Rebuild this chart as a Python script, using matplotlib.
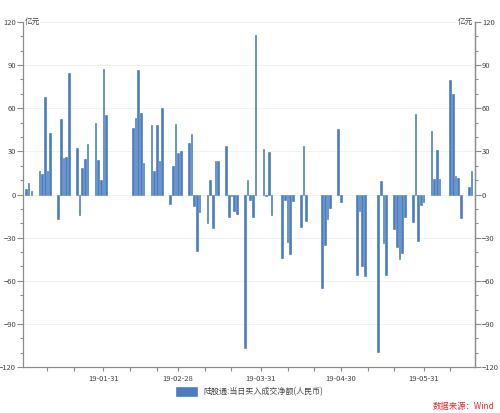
import matplotlib
matplotlib.use("Agg")
import matplotlib.pyplot as plt
import pandas as pd

plt.rcParams["font.family"] = ["Noto Sans CJK SC", "DejaVu Sans"]

# 陆股通 daily net buy (亿元), trading days 2019-01-02 .. 2019-06-18
dates = [
    "2019-01-02", "2019-01-03", "2019-01-04",
    "2019-01-07", "2019-01-08", "2019-01-09", "2019-01-10", "2019-01-11",
    "2019-01-14", "2019-01-15", "2019-01-16", "2019-01-17", "2019-01-18",
    "2019-01-21", "2019-01-22", "2019-01-23", "2019-01-24", "2019-01-25",
    "2019-01-28", "2019-01-29", "2019-01-30", "2019-01-31", "2019-02-01",
    "2019-02-11", "2019-02-12", "2019-02-13", "2019-02-14", "2019-02-15",
    "2019-02-18", "2019-02-19", "2019-02-20", "2019-02-21", "2019-02-22",
    "2019-02-25", "2019-02-26", "2019-02-27", "2019-02-28", "2019-03-01",
    "2019-03-04", "2019-03-05", "2019-03-06", "2019-03-07", "2019-03-08",
    "2019-03-11", "2019-03-12", "2019-03-13", "2019-03-14", "2019-03-15",
    "2019-03-18", "2019-03-19", "2019-03-20", "2019-03-21", "2019-03-22",
    "2019-03-25", "2019-03-26", "2019-03-27", "2019-03-28", "2019-03-29",
    "2019-04-01", "2019-04-02", "2019-04-03", "2019-04-04",
    "2019-04-08", "2019-04-09", "2019-04-10", "2019-04-11", "2019-04-12",
    "2019-04-15", "2019-04-16", "2019-04-17",
    "2019-04-23", "2019-04-24", "2019-04-25", "2019-04-26",
    "2019-04-29", "2019-04-30",
    "2019-05-06", "2019-05-07", "2019-05-08", "2019-05-09",
    "2019-05-14", "2019-05-15", "2019-05-16", "2019-05-17",
    "2019-05-20", "2019-05-21", "2019-05-22", "2019-05-23", "2019-05-24",
    "2019-05-27", "2019-05-28", "2019-05-29", "2019-05-30", "2019-05-31",
    "2019-06-03", "2019-06-04", "2019-06-05", "2019-06-06",
    "2019-06-10", "2019-06-11", "2019-06-12", "2019-06-13", "2019-06-14",
    "2019-06-17", "2019-06-18",
]
net_buy = [
    3.5, 7.8, 2.2,
    16.5, 14.5, 68.0, 16.4, 42.8,
    -16.8, 52.2, 25.4, 26.1, 84.4,
    32.4, -14.0, 18.3, 24.5, 35.0,
    49.7, 23.9, 10.0, 87.0, 55.5,
    46.0, 53.5, 86.3, 56.8, 22.0,
    48.0, 16.2, 48.0, 23.3, 60.3,
    -6.7, 20.0, 49.0, 28.8, 30.2,
    35.5, 41.8, -8.1, -39.6, -12.0,
    -19.7, 10.0, -23.3, 23.1, 23.0,
    34.0, -15.8, -1.0, -11.5, -13.5,
    -107.0, 10.0, -4.0, -15.3, 111.0,
    31.3, -1.0, 29.5, -14.4,
    -44.0, -3.5, -33.0, -41.5, -4.6,
    -22.3, 34.0, -18.4,
    -65.0, -35.0, -16.7, -9.7,
    45.5, -5.0,
    -56.0, -11.6, -49.6, -56.6,
    -109.5, 9.3, -33.5, -55.7,
    -23.8, -36.4, -44.8, -40.8, -15.5,
    -19.0, 55.8, -32.3, -7.4, -5.0,
    44.3, 10.7, 30.9, 10.7,
    79.4, 69.8, 12.8, 11.8, -16.0,
    4.9, 16.2,
]
label_months = ["2019-01-31", "2019-02-28", "2019-03-31", "2019-04-30", "2019-05-31"]
minor_days = ["2019-01-10", "2019-01-20", "2019-02-10", "2019-02-20",
              "2019-03-10", "2019-03-20", "2019-04-10", "2019-04-20",
              "2019-05-10", "2019-05-20", "2019-06-10"]
legend_label = "陆股通:当日买入成交净额(人民币)"

x = pd.to_datetime(dates)
bar_color = "#4a7dc0"
axis_color = "#8c8c8c"
text_color = "#444444"

fig = plt.figure(figsize=(5.0, 4.13), dpi=100, facecolor="white")
ax = fig.add_axes([0.046, 0.111, 0.904, 0.836])

ax.bar(x, net_buy, width=0.62, color=bar_color, edgecolor=bar_color,
       linewidth=0.45, zorder=2, label=legend_label)

ax.set_ylim(-120, 120)
ax.set_xlim(pd.Timestamp("2018-12-31 21:00"), pd.Timestamp("2019-06-19 06:00"))
ax.set_yticks(range(-120, 121, 30))
ax.set_yticks(range(-120, 121, 10), minor=True)
for yv in range(-90, 121, 30):
    ax.axhline(yv, color="#f2f2f2", linewidth=0.7, zorder=0)

major = pd.to_datetime(label_months)
ax.set_xticks(major)
ax.set_xticklabels([d.strftime("%y-%m-%d") for d in major])
ax.set_xticks(pd.to_datetime(minor_days), minor=True)

ax.spines["top"].set_visible(False)
for side in ["left", "right", "bottom"]:
    ax.spines[side].set_color(axis_color)
    ax.spines[side].set_linewidth(0.9)

ax.tick_params(axis="both", which="both", direction="out", color=axis_color,
               labelcolor=text_color, labelsize=5.5, width=0.8)
ax.tick_params(axis="y", which="major", length=4, pad=1)
ax.tick_params(axis="y", which="minor", length=2)
ax.tick_params(axis="x", which="both", length=3, pad=3)

ax2 = ax.twinx()
ax2.set_ylim(ax.get_ylim())
ax2.set_yticks(range(-120, 121, 30))
ax2.set_yticks(range(-120, 121, 10), minor=True)
for side in ["top", "left", "bottom"]:
    ax2.spines[side].set_visible(False)
ax2.spines["right"].set_color(axis_color)
ax2.spines["right"].set_linewidth(0.9)
ax2.tick_params(axis="y", which="both", direction="out", color=axis_color,
                labelcolor=text_color, labelsize=5.5, width=0.8)
ax2.tick_params(axis="y", which="major", length=4, pad=1)
ax2.tick_params(axis="y", which="minor", length=2)

ax.text(0.004, 1.0, "亿元", transform=ax.transAxes, fontsize=5.5,
        color=text_color, ha="left", va="center")
ax.text(0.996, 1.0, "亿元", transform=ax.transAxes, fontsize=5.5,
        color=text_color, ha="right", va="center")

fig.legend(loc="center", bbox_to_anchor=(0.5, 0.052), frameon=False,
           fontsize=5.8, handlelength=2.6, handleheight=1.3, labelcolor=text_color)

fig.text(0.99, 0.005, "数据来源：Wind", color="#e8262b", fontsize=6,
         style="italic", ha="right", va="bottom")

fig.savefig("out.png", dpi=100)
